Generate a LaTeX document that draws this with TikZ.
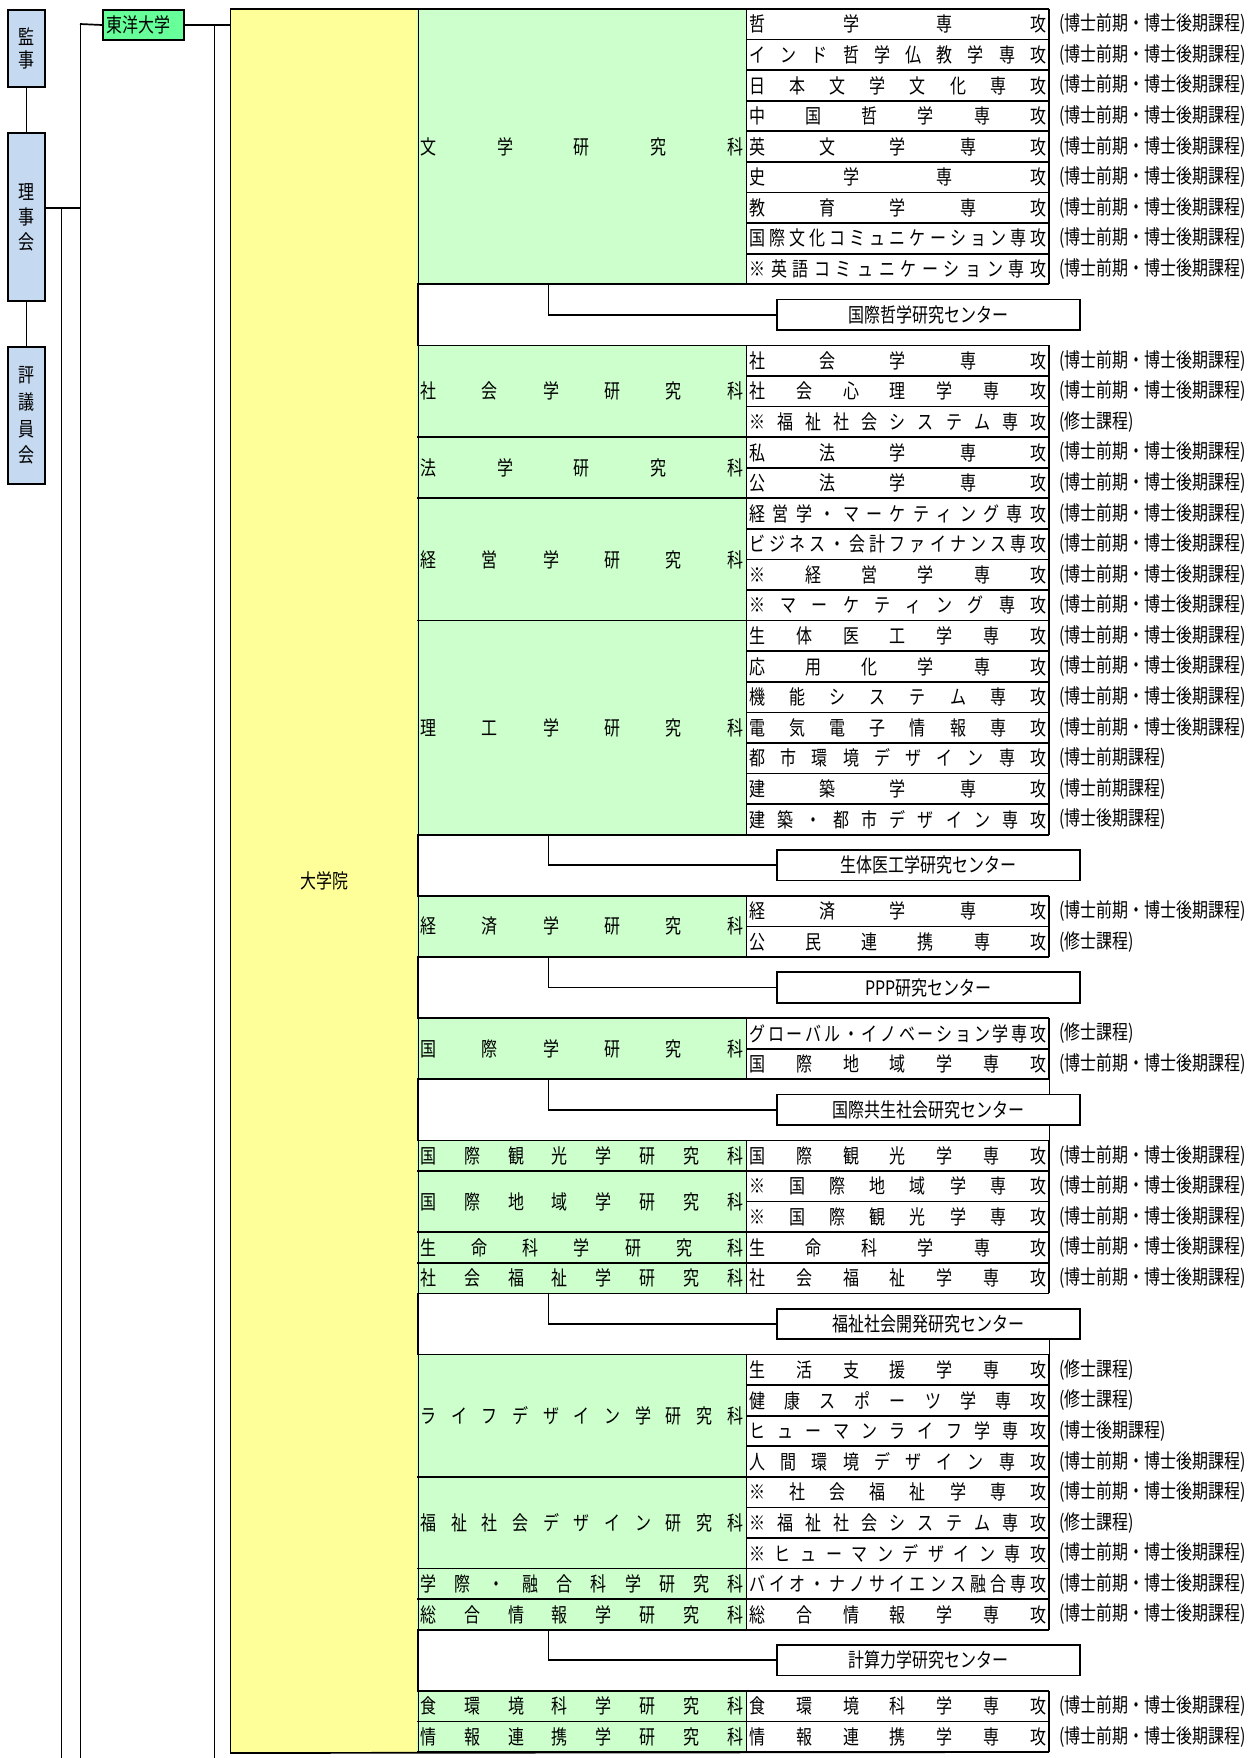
\documentclass[tikz,border=0pt]{standalone}
\usepackage{fontspec}
\setmainfont{Noto Sans CJK JP}[FakeStretch=0.8]
\definecolor{yel}{HTML}{FFFF99}
\definecolor{grn}{HTML}{CCFFCC}
\definecolor{tgrn}{HTML}{66FF99}
\definecolor{blu}{HTML}{C5D9F1}
\def\rowh{30.58}
\def\distloop#1#2\distend{#1\ifx\relax#2\relax\else\hfill\distloop#2\distend\fi}
\newcommand\dist[2]{\makebox[#1][s]{\distloop#2\distend}}
\def\dk{(博士前期・博士後期課程)}
\def\sk{(修士課程)}
\begin{document}
\begin{tikzpicture}[x=0.5pt,y=-0.5pt,
  thk/.style={line width=0.85pt},
  thn/.style={line width=0.5pt},
  txt/.style={inner sep=0pt, font=\fontsize{10pt}{12pt}\selectfont},
  bluebox/.style={draw, line width=1pt, fill=blu, minimum width=18.5pt, anchor=north west, inner sep=0pt, align=center},
  cbox/.style={draw, thk, fill=white, minimum width=151.5pt, minimum height=15.3pt, anchor=west, inner sep=0pt, font=\fontsize{10pt}{12pt}\selectfont}]
\useasboundingbox (0,0) rectangle (1255,1758);
\fill[white] (0,0) rectangle (1255,1758);

% helpers
\newcommand\gblock[3]{%
  \fill[grn] (417,{9+#1*\rowh}) rectangle (746,{9+(#1+#2)*\rowh});
  \draw[thn] (746,{9+#1*\rowh}) -- (746,{9+(#1+#2)*\rowh});
  \draw[thk] (1049,{9+#1*\rowh}) -- (1049,{9+(#1+#2)*\rowh});
  \draw[thk] (417,{9+#1*\rowh}) -- (1049,{9+#1*\rowh});
  \draw[thk] (417,{9+(#1+#2)*\rowh}) -- (1049,{9+(#1+#2)*\rowh});
  \node[txt, anchor=west] at (420,{9+(#1+#2/2)*\rowh}) {\dist{161.5pt}{#3}};
}
\newcommand\major[3]{%
  \draw[thk] (746,{9+#1*\rowh}) -- (1049,{9+#1*\rowh});
  \node[txt, anchor=west] at (749,{9+(#1+0.5)*\rowh}) {\dist{148.5pt}{#2}};
  \node[txt, anchor=west] at (1059,{9+(#1+0.5)*\rowh}) {#3};
}
\newcommand\ctrbox[3]{%
  \node[cbox] (#1) at (776,{9+(#2+1)*\rowh}) {#3};
  \coordinate (#1s) at (548,{9+#2*\rowh});
  \coordinate (#1k) at (548,{9+(#2+1)*\rowh});
  \draw[thn] (#1s) -- (#1k);
  \draw[thk] (#1k) -- (#1.west);
}

% left boxes
\node[bluebox, minimum height=38.5pt, font=\fontsize{10pt}{11.8pt}\selectfont] (kanji) at (7,9) {監\\事};
\node[bluebox, minimum height=84pt, font=\fontsize{10pt}{12.5pt}\selectfont] (riji) at (7,132) {理\\事\\会};
\node[bluebox, minimum height=68.5pt, font=\fontsize{10pt}{13.3pt}\selectfont] (hyogi) at (7,346) {評\\議\\員\\会};
\node[draw, line width=1pt, fill=tgrn, minimum width=40.5pt, minimum height=15pt, anchor=north west, inner sep=0pt, font=\fontsize{10pt}{12pt}\selectfont] (toyo) at (102,9) {\makebox[37pt][l]{東洋大学}};
\node[fill=yel, draw, thn, minimum width=93.5pt, minimum height=871.5pt, anchor=north west, txt] (ygrad) at (230,9) {大学院};

\coordinate (j1) at (61,208);
\coordinate (j2) at (80,208);
\coordinate (t2) at (80,24);
\coordinate (t3) at (214,24);
\coordinate (b1) at (61,1758);
\coordinate (b2) at (80,1758);
\coordinate (b3) at (214,1758);
\draw[thn] (kanji.south) -- (riji.north);
\draw[thn] (riji.south) -- (hyogi.north);
\draw[thk] (riji.east |- j2) -- (j2);
\draw[thn] (j1) -- (b1);
\draw[thn] (t2) -- (b2);
\draw[thk] (t2) -- (toyo.west);
\draw[thk] (toyo.east) -- (ygrad.west |- toyo.east);
\draw[thn] (t3) -- (b3);

% blocks
\gblock{0}{9}{文学研究科}
\major{0}{哲学専攻}{\dk}
\major{1}{インド哲学仏教学専攻}{\dk}
\major{2}{日本文学文化専攻}{\dk}
\major{3}{中国哲学専攻}{\dk}
\major{4}{英文学専攻}{\dk}
\major{5}{史学専攻}{\dk}
\major{6}{教育学専攻}{\dk}
\major{7}{国際文化コミュニケーション専攻}{\dk}
\major{8}{※英語コミュニケーション専攻}{\dk}
\ctrbox{c1}{9}{国際哲学研究センター}

\gblock{11}{3}{社会学研究科}
\major{11}{社会学専攻}{\dk}
\major{12}{社会心理学専攻}{\dk}
\major{13}{※福祉社会システム専攻}{\sk}
\gblock{14}{2}{法学研究科}
\major{14}{私法学専攻}{\dk}
\major{15}{公法学専攻}{\dk}
\gblock{16}{4}{経営学研究科}
\major{16}{経営学・マーケティング専攻}{\dk}
\major{17}{ビジネス・会計ファイナンス専攻}{\dk}
\major{18}{※経営学専攻}{\dk}
\major{19}{※マーケティング専攻}{\dk}
\gblock{20}{7}{理工学研究科}
\major{20}{生体医工学専攻}{\dk}
\major{21}{応用化学専攻}{\dk}
\major{22}{機能システム専攻}{\dk}
\major{23}{電気電子情報専攻}{\dk}
\major{24}{都市環境デザイン専攻}{(博士前期課程)}
\major{25}{建築学専攻}{(博士前期課程)}
\major{26}{建築・都市デザイン専攻}{(博士後期課程)}
\ctrbox{c2}{27}{生体医工学研究センター}

\gblock{29}{2}{経済学研究科}
\major{29}{経済学専攻}{\dk}
\major{30}{公民連携専攻}{\sk}
\ctrbox{c3}{31}{PPP研究センター}

\gblock{33}{2}{国際学研究科}
\major{33}{グローバル・イノベーション学専攻}{\sk}
\major{34}{国際地域学専攻}{\dk}
\ctrbox{c4}{35}{国際共生社会研究センター}
\draw[thn] (1049,{9+35*\rowh}) -- (c4.north east -| 1049,0);
\draw[thn] (c4.south east -| 1049,0) -- (1049,{9+37*\rowh});

\gblock{37}{1}{国際観光学研究科}
\major{37}{国際観光学専攻}{\dk}
\gblock{38}{2}{国際地域学研究科}
\major{38}{※国際地域学専攻}{\dk}
\major{39}{※国際観光学専攻}{\dk}
\gblock{40}{1}{生命科学研究科}
\major{40}{生命科学専攻}{\dk}
\gblock{41}{1}{社会福祉学研究科}
\major{41}{社会福祉学専攻}{\dk}
\ctrbox{c5}{42}{福祉社会開発研究センター}
\draw[thn] (c5.south east -| 1049,0) -- (1049,{9+44*\rowh});

\gblock{44}{4}{ライフデザイン学研究科}
\major{44}{生活支援学専攻}{\sk}
\major{45}{健康スポーツ学専攻}{\sk}
\major{46}{ヒューマンライフ学専攻}{(博士後期課程)}
\major{47}{人間環境デザイン専攻}{\dk}
\gblock{48}{3}{福祉社会デザイン研究科}
\major{48}{※社会福祉学専攻}{\dk}
\major{49}{※福祉社会システム専攻}{\sk}
\major{50}{※ヒューマンデザイン専攻}{\dk}
\gblock{51}{1}{学際・融合科学研究科}
\major{51}{バイオ・ナノサイエンス融合専攻}{\dk}
\gblock{52}{1}{総合情報学研究科}
\major{52}{総合情報学専攻}{\dk}
\ctrbox{c6}{53}{計算力学研究センター}

\gblock{55}{1}{食環境科学研究科}
\major{55}{食環境科学専攻}{\dk}
\gblock{56}{1}{情報連携学研究科}
\major{56}{情報連携学専攻}{\dk}

% outer top and bottom of the graduate school frame
\draw[thk] (ygrad.north west) -- (1049,9);
\draw[thk] (ygrad.south west) -- (1049,1752);
\draw[thn] (ygrad.north east) -- (ygrad.south east);
\end{tikzpicture}
\end{document}
